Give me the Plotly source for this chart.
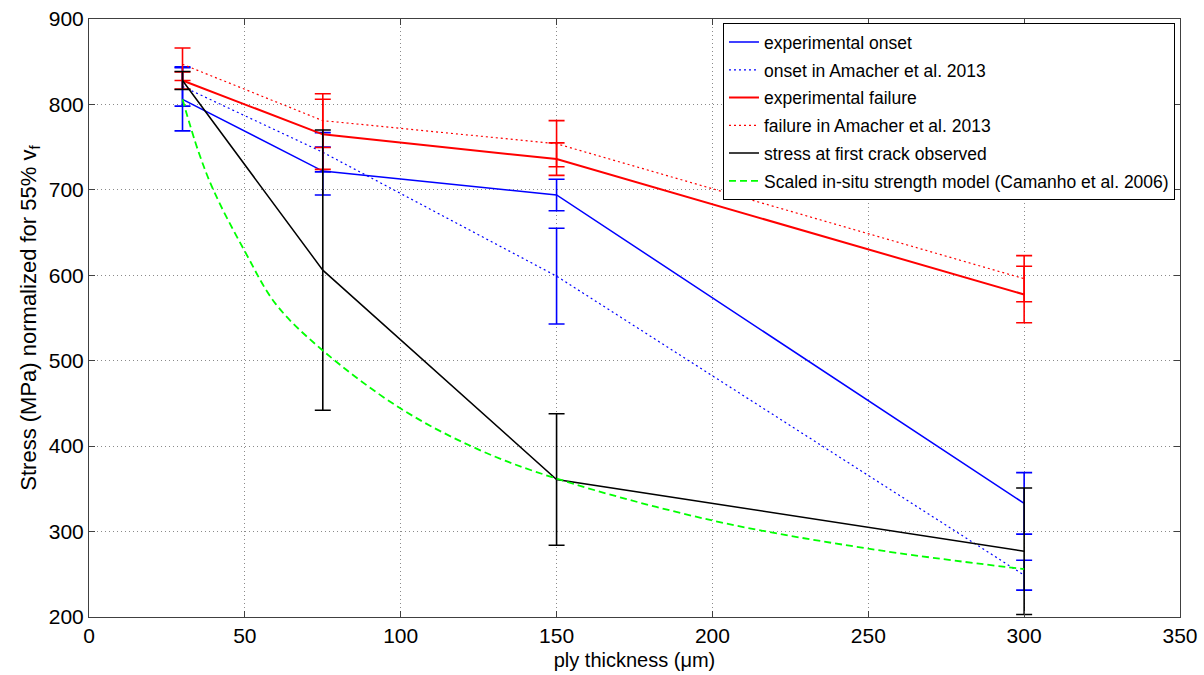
import plotly.graph_objects as go

# ply thickness (um)
thickness = [30, 75, 150, 300]

# experimental onset
onset_exp = [806, 722, 694, 333]
onset_exp_err = [37, 28, 18.5, 36]

# onset in Amacher et al. 2013
onset_am = [821, 744, 599, 249]
onset_am_err = [23, 23, 56, 17.5]

# experimental failure
fail_exp = [828, 765, 736, 577.5]
fail_exp_err = [10, 41, 19, 33]

# failure in Amacher et al. 2013
fail_am = [847, 781, 754, 596]
fail_am_err = [19, 31.5, 27, 27]

# stress at first crack observed
crack = [828, 606, 361, 277]
crack_err = [10.5, 164, 77, 74]

# scaled in-situ strength model
model_x = [30, 35, 40, 50, 60, 75, 100, 125, 150, 200, 250, 300]
model_y = [806, 746, 699, 628, 566, 512, 444, 396, 362, 313, 280, 256]

BLUE = "rgb(0,0,255)"
RED = "rgb(255,0,0)"
BLACK = "rgb(0,0,0)"
GREEN = "rgb(0,255,0)"
FONT = "Liberation Sans, Arial, sans-serif"

fig = go.Figure()

def add(name, x, y, err, color, dash, width, shape="linear"):
    eb = None
    if err is not None:
        eb = dict(type="data", array=err, visible=True, color=color,
                  thickness=1.6, width=8)
    fig.add_trace(go.Scatter(
        x=x, y=y, name=name, mode="lines", legendgroup=name,
        line=dict(color=color, dash=dash, width=width, shape=shape),
        error_y=eb,
    ))

add("experimental onset", thickness, onset_exp, onset_exp_err, BLUE, "solid", 1.5)
add("onset in Amacher et al. 2013", thickness, onset_am, onset_am_err, BLUE, "2px,3px", 1.2)
add("experimental failure", thickness, fail_exp, fail_exp_err, RED, "solid", 2)
add("failure in Amacher et al. 2013", thickness, fail_am, fail_am_err, RED, "2px,3px", 1.2)
add("stress at first crack observed", thickness, crack, crack_err, BLACK, "solid", 1.5)
add("Scaled in-situ strength model (Camanho et al. 2006)", model_x, model_y, None,
    GREEN, "7px,4px", 1.8, shape="spline")

axis_common = dict(
    showline=True, linecolor="#404040", linewidth=1, mirror="allticks",
    ticks="inside", ticklen=6, tickcolor="#404040",
    showgrid=True, gridcolor="#8a8a8a", griddash="1px,3px", gridwidth=1,
    zeroline=False, automargin=False,
    tickfont=dict(family=FONT, size=21, color="black"),
)

fig.update_layout(
    width=1204, height=675,
    margin=dict(l=89, r=24, t=19, b=58),
    plot_bgcolor="white", paper_bgcolor="white",
    font=dict(family=FONT, color="black"),
    xaxis=dict(range=[0, 350], dtick=50,
               title=dict(text="ply thickness (\u03bcm)", standoff=6,
                          font=dict(family=FONT, size=20, color="black")),
               **axis_common),
    yaxis=dict(range=[200, 900], dtick=100,
               title=dict(text="Stress (MPa) normalized for 55% v<sub>f</sub>", standoff=6,
                          font=dict(family=FONT, size=22, color="black")),
               **axis_common),
    legend=dict(x=0.9954, y=0.993, xanchor="right", yanchor="top",
                bgcolor="white", bordercolor="black", borderwidth=1,
                font=dict(size=17.5, family=FONT, color="black"),
                tracegroupgap=2, itemwidth=30),
    showlegend=True,
)

fig.write_html("out.html", config={"displayModeBar": False},
               post_script="document.body.style.margin='0px';")
